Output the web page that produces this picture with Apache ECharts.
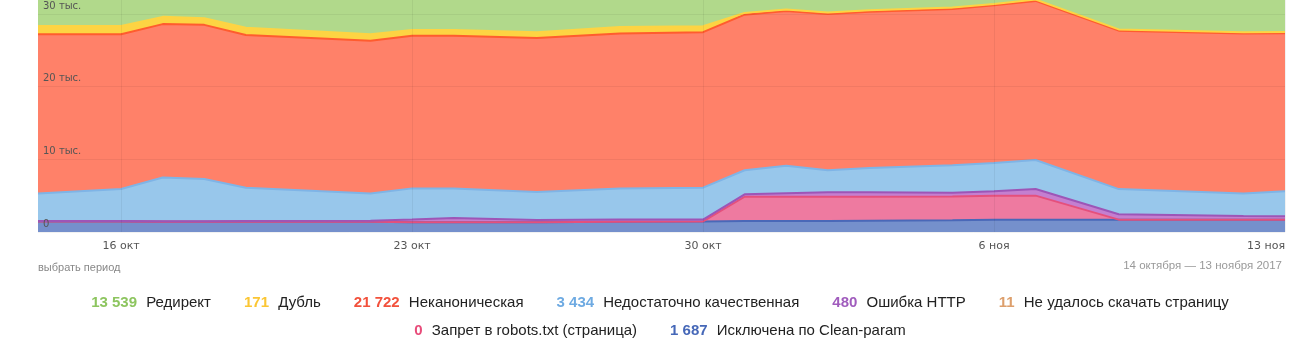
<!DOCTYPE html>
<html>
<head>
<meta charset="utf-8">
<script src="https://cdn.jsdelivr.net/npm/echarts@6/dist/echarts.min.js"></script>
<style>
  html, body { margin: 0; padding: 0; background: #fff; }
  #chart { width: 1315px; height: 353px; }
</style>
</head>
<body>
<div id="chart"></div>
<script>
// dates where the curves have a vertex
const dates = ['2017-10-14', '2017-10-16', '2017-10-17', '2017-10-18', '2017-10-19', '2017-10-22', '2017-10-23',
  '2017-10-24', '2017-10-26', '2017-10-28', '2017-10-30', '2017-10-31', '2017-11-01', '2017-11-02', '2017-11-03',
  '2017-11-05', '2017-11-06', '2017-11-07', '2017-11-09', '2017-11-12', '2017-11-13'];
const tickDates = ['2017-10-16', '2017-10-23', '2017-10-30', '2017-11-06', '2017-11-13'];

// stacked from the bottom up
const cleanParam = [1450, 1450, 1400, 1400, 1400, 1400, 1350, 1350, 1350, 1400, 1450, 1500, 1500, 1500, 1550, 1600, 1700, 1700, 1700, 1700, 1687];
const robotsBan = [0, 0, 0, 0, 0, 0, 0, 0, 0, 0, 0, 3350, 3350, 3350, 3300, 3300, 3300, 3300, 0, 0, 0];
const fetchFailed = [15, 15, 14, 14, 13, 12, 12, 12, 11, 11, 11, 11, 11, 11, 11, 11, 11, 11, 11, 11, 11];
const httpError = [50, 50, 50, 50, 100, 150, 350, 550, 300, 300, 250, 320, 460, 600, 600, 500, 600, 900, 730, 500, 480];
const lowQuality = [3790, 4390, 6040, 5840, 4590, 3740, 4290, 4090, 3840, 4290, 4390, 3320, 3780, 3040, 3340, 3790, 3890, 3990, 3460, 3090, 3434];
const nonCanonical = [21900, 21300, 21100, 21200, 21000, 21000, 21000, 21000, 21200, 21300, 21400, 21400, 21300, 21500, 21500, 21500, 21700, 21900, 21800, 22000, 21722];
const dubl = [1150, 1150, 1000, 900, 1000, 900, 800, 800, 800, 900, 800, 250, 200, 200, 200, 190, 180, 180, 175, 172, 171];
const redirect = [13300, 13300, 13350, 13350, 13400, 13400, 13400, 13450, 13450, 13450, 13500, 13500, 13500, 13500, 13500, 13500, 13520, 13520, 13530, 13540, 13539];

const monthNames = ['янв', 'фев', 'мар', 'апр', 'мая', 'июн', 'июл', 'авг', 'сен', 'окт', 'ноя', 'дек'];
const DAY = 86400000;
const start = Date.parse(dates[0]);
const dayIndex = d => (Date.parse(d) - start) / DAY;

const layers = [
  { name: 'Исключена по Clean-param', data: cleanParam, area: '#7590cc', line: '#4a68b8', text: '#4668b8', lw: 2 },
  { name: 'Запрет в robots.txt (страница)', data: robotsBan, area: '#ee7aa0', line: '#e5507c', text: '#e84c7a', lw: 2 },
  { name: 'Не удалось скачать страницу', data: fetchFailed, area: '#e8ad7e', line: '#dd9f6c', text: '#dd9f6c', lw: 0 },
  { name: 'Ошибка HTTP', data: httpError, area: '#c47fd0', line: '#9d55b7', text: '#a05cbd', lw: 2 },
  { name: 'Недостаточно качественная', data: lowQuality, area: '#98c7eb', line: '#7fb4e6', text: '#6eaae2', lw: 2 },
  { name: 'Неканоническая', data: nonCanonical, area: '#ff8169', line: '#ff5c2e', text: '#f2513c', lw: 2 },
  { name: 'Дубль', data: dubl, area: '#fdd443', line: '#fdd443', text: '#fbc634', lw: 2 },
  { name: 'Редирект', data: redirect, area: '#b1d98b', line: '#a8d47f', text: '#8dc55f', lw: 2 }
];

function fmtNum(v) {
  return String(v).replace(/\B(?=(\d{3})+(?!\d))/g, ' ');
}

const rich = {};
layers.forEach((l, i) => {
  rich['n' + i] = { color: l.text, fontWeight: 'bold', fontSize: 15, fontFamily: 'Liberation Sans', padding: [0, 5, 0, 0] };
  rich['t' + i] = { color: '#222', fontSize: 15, fontFamily: 'Liberation Sans' };
});

function legendFormatter(name) {
  const i = layers.findIndex(l => l.name === name);
  const last = layers[i].data[layers[i].data.length - 1];
  return '{n' + i + '|' + fmtNum(last) + '} {t' + i + '|' + name + '}';
}

const legendBase = {
  icon: 'none',
  itemWidth: 0,
  itemHeight: 0,
  itemGap: 28,
  left: 'center',
  formatter: legendFormatter,
  textStyle: { fontFamily: 'Liberation Sans', fontSize: 15, color: '#222', rich: rich }
};

const ticks = tickDates.map(dayIndex);

const chart = echarts.init(document.getElementById('chart'));

chart.setOption({
  animation: false,
  grid: { left: 38, right: 30, top: -58.7, bottom: 121, outerBoundsMode: 'none', containLabel: false },
  xAxis: {
    type: 'value',
    min: 0,
    max: dayIndex(dates[dates.length - 1]),
    z: 10,
    axisLine: { show: false },
    axisTick: { show: false, customValues: ticks },
    splitLine: { show: true, lineStyle: { color: 'rgba(0,0,0,0.055)' } },
    axisLabel: {
      customValues: ticks,
      alignMaxLabel: 'right',
      margin: 9,
      color: '#555',
      fontSize: 11,
      fontFamily: 'DejaVu Sans',
      formatter: v => {
        const d = new Date(start + v * DAY);
        return d.getUTCDate() + ' ' + monthNames[d.getUTCMonth()];
      }
    }
  },
  yAxis: {
    type: 'value',
    min: 0,
    max: 40000,
    interval: 10000,
    z: 10,
    axisLine: { show: false },
    axisTick: { show: false },
    splitLine: { lineStyle: { color: 'rgba(0,0,0,0.055)' } },
    axisLabel: {
      inside: true,
      margin: 5,
      verticalAlign: 'bottom',
      padding: [0, 0, 3, 0],
      color: '#555',
      fontSize: 10,
      fontFamily: 'DejaVu Sans',
      formatter: v => (v === 0 ? '0' : v / 1000 + ' тыс.')
    }
  },
  legend: [
    Object.assign({}, legendBase, {
      top: 290,
      data: ['Редирект', 'Дубль', 'Неканоническая', 'Недостаточно качественная', 'Ошибка HTTP', 'Не удалось скачать страницу']
    }),
    Object.assign({}, legendBase, {
      top: 318,
      data: ['Запрет в robots.txt (страница)', 'Исключена по Clean-param']
    })
  ],
  graphic: [
    { type: 'text', left: 38, top: 262, style: { text: 'выбрать период', fill: '#888', fontSize: 11, fontFamily: 'Liberation Sans' } },
    { type: 'text', right: 33, top: 260, style: { text: '14 октября — 13 ноября 2017', fill: '#999', fontSize: 11.5, fontFamily: 'Liberation Sans' } }
  ],
  // value first in each pair so the stack sums the counts, not the days
  series: layers.map(l => ({
    name: l.name,
    type: 'line',
    stack: 'total',
    symbol: 'none',
    color: l.text,
    encode: { x: 1, y: 0 },
    lineStyle: { width: l.lw, color: l.line },
    areaStyle: { color: l.area, opacity: 1 },
    data: l.data.map((v, i) => [v, dayIndex(dates[i])])
  }))
});
</script>
</body>
</html>
